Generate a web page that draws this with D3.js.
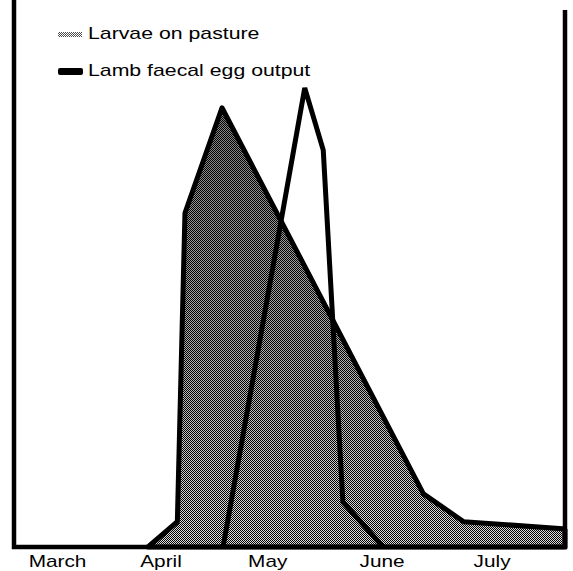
<!DOCTYPE html>
<html>
<head>
<meta charset="utf-8">
<script src="https://cdn.jsdelivr.net/npm/d3@7"></script>
<style>
	body { margin: 0; background: #fff; }
	svg { display: block; }
</style>
</head>
<body>
<svg id="chart" width="573" height="571"></svg>
<script>
// months on the x axis and where each label sits (month index)
var months = ["March", "April", "May", "June", "July"];
var monthPos = [0, 0.95, 1.93, 2.98, 3.99];

// larvae on pasture: month index, relative level
var larvaeX = [0.83, 1.10, 1.17, 1.51, 3.36, 3.73, 4.64, 4.66];
var larvaeY = [0, 4.7, 62.2, 81.8, 9.9, 4.7, 3.4, 3.2];

// lamb faecal egg output
var eggX = [1.52, 2.27, 2.44, 2.62, 2.99];
var eggY = [0, 85.5, 73.9, 8.4, 0];

var legendItems = ["Larvae on pasture", "Lamb faecal egg output"];

var svg = d3.select("#chart");
var font = "'Liberation Sans', Arial, Helvetica, sans-serif";

var x = d3.scaleLinear()
	.domain([-0.4, 4.66])
	.range([14, 565]);

var y = d3.scaleLinear()
	.domain([0, 100])
	.range([547, 10]);

var defs = svg.append("defs");

// halftone dot screen
var pat = defs.append("pattern")
	.attr("id", "screen")
	.attr("patternUnits", "userSpaceOnUse")
	.attr("width", 2)
	.attr("height", 2);
pat.append("rect").attr("width", 2).attr("height", 2).attr("fill", "#fff");
pat.append("rect").attr("width", 1).attr("height", 1).attr("fill", "#000");
pat.append("rect").attr("x", 1).attr("y", 1).attr("width", 1).attr("height", 1).attr("fill", "#000");

var grad = defs.append("linearGradient")
	.attr("id", "shade")
	.attr("gradientUnits", "userSpaceOnUse")
	.attr("x1", 0).attr("x2", 0)
	.attr("y1", y(82)).attr("y2", y(0));
grad.append("stop").attr("offset", 0).attr("stop-color", "#000").attr("stop-opacity", 0.5);
grad.append("stop").attr("offset", 0.6).attr("stop-color", "#000").attr("stop-opacity", 0.3);
grad.append("stop").attr("offset", 1).attr("stop-color", "#000").attr("stop-opacity", 0.12);

var larvae = larvaeX.map((d, i) => [d, larvaeY[i]]);
larvae.push([larvaeX[larvaeX.length - 1], 0]);
var egg = eggX.map((d, i) => [d, eggY[i]]);

var line = d3.line()
	.x(d => x(d[0]))
	.y(d => y(d[1]));

// larvae area
svg.append("path")
	.attr("d", line(larvae) + "Z")
	.attr("fill", "url(#screen)");
svg.append("path")
	.attr("d", line(larvae) + "Z")
	.attr("fill", "url(#shade)");
svg.append("path")
	.attr("d", line(larvae) + "Z")
	.attr("fill", "none")
	.attr("stroke", "#000")
	.attr("stroke-width", 5)
	.attr("stroke-linejoin", "round");

// egg output line
svg.append("path")
	.attr("d", line(egg))
	.attr("fill", "none")
	.attr("stroke", "#000")
	.attr("stroke-width", 5)
	.attr("stroke-linejoin", "miter");

// frame
svg.append("path")
	.attr("d", `M${x.range()[0]},0V${y(0)}H${x.range()[1]}V${y(100)}`)
	.attr("fill", "none")
	.attr("stroke", "#000")
	.attr("stroke-width", 4.5);

// month labels
svg.append("g")
	.selectAll("text")
	.data(months)
	.join("text")
	.attr("transform", (d, i) => `translate(${x(monthPos[i])},567) scale(1.3,1)`)
	.attr("text-anchor", "middle")
	.style("font-family", font)
	.style("font-size", "16px")
	.text(d => d);

// legend
var legend = svg.append("g")
	.selectAll("g")
	.data(legendItems)
	.join("g")
	.attr("transform", (d, i) => `translate(58,${39 + i * 37})`);

legend.filter((d, i) => i == 0)
	.append("rect")
	.attr("y", -7)
	.attr("width", 24)
	.attr("height", 5)
	.attr("fill", "url(#screen)")
	.attr("opacity", 0.7);

legend.filter((d, i) => i == 1)
	.append("rect")
	.attr("y", -8)
	.attr("width", 25)
	.attr("height", 7)
	.attr("rx", 2)
	.attr("fill", "#000");

legend.append("text")
	.attr("transform", "translate(30,0) scale(1.33,1)")
	.style("font-family", font)
	.style("font-size", "16px")
	.text(d => d);
</script>
</body>
</html>
